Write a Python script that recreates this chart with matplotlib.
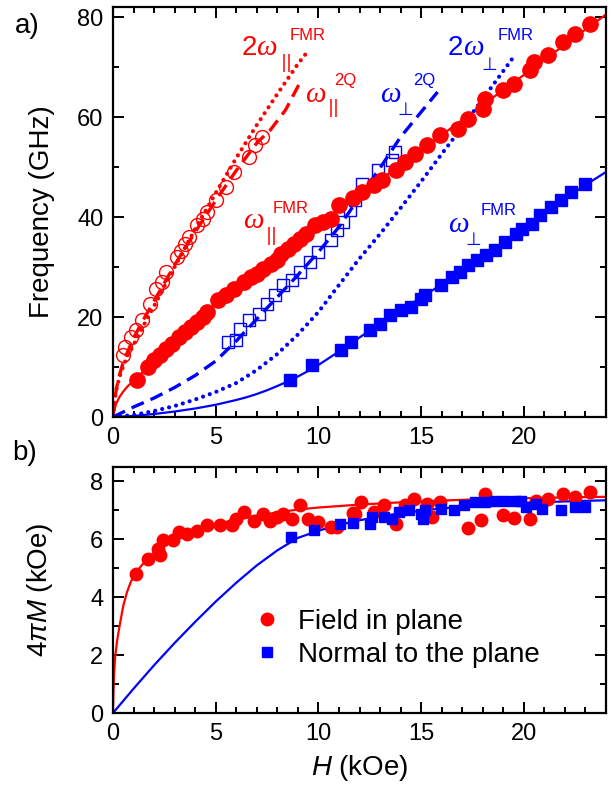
import numpy as np
import matplotlib
matplotlib.use('Agg')
import matplotlib.pyplot as plt
from matplotlib.ticker import MultipleLocator

plt.rcParams['font.family'] = ['Liberation Sans', 'DejaVu Sans']
plt.rcParams['mathtext.fontset'] = 'custom'
plt.rcParams['mathtext.rm'] = 'Liberation Sans'
plt.rcParams['mathtext.it'] = 'Liberation Sans:italic'

RED = '#ff0000'
BLUE = '#0000ff'

# ---------------- panel a: frequency vs field ----------------
# in-plane FMR (filled circles)
par_fmr_h = [1.15, 1.7, 2.0, 2.3, 2.6, 2.86, 3.2, 3.5, 3.8, 4.1, 4.4, 4.6, 5.1, 5.5, 5.9,
             6.4, 6.7, 7.0, 7.3, 7.7, 8.0, 8.2, 8.5, 8.8, 9.1, 9.4, 9.85, 10.2, 10.6, 11.0,
             11.7, 12.1, 12.7, 13.1, 13.8, 14.2, 14.7, 15.3, 15.9, 16.8, 17.3, 18.0, 18.1,
             19.0, 19.5, 20.3, 20.5, 21.2, 21.9, 22.5, 23.2]
par_fmr_f = [7.4, 10.0, 11.5, 12.4, 13.6, 14.7, 16.0, 17.0, 18.0, 19.0, 20.0, 21.0, 23.4, 24.5, 25.7,
             27.0, 28.0, 28.7, 29.6, 30.7, 31.5, 32.7, 33.6, 34.7, 35.6, 36.7, 38.4, 39.0, 39.7, 42.4,
             43.8, 45.0, 46.4, 47.4, 49.4, 51.0, 52.7, 54.4, 56.4, 57.7, 59.7, 61.7, 63.7,
             65.4, 66.7, 69.4, 71.0, 72.4, 75.0, 76.7, 78.7]

# in-plane two-quantum (open circles)
par_2q_h = [0.5, 0.6, 0.9, 1.1, 1.4, 1.8, 2.1, 2.4, 2.6, 3.1, 3.3, 3.5, 3.7, 4.1, 4.4,
            4.6, 5.0, 5.5, 5.9, 6.6, 6.9, 7.25]
par_2q_f = [12.4, 14.0, 16.0, 17.5, 19.4, 22.7, 25.7, 27.0, 29.0, 32.0, 33.3, 34.7, 36.0, 38.4, 39.7,
            41.0, 43.4, 46.0, 49.0, 52.0, 54.4, 56.0]

# perpendicular FMR (filled squares)
perp_fmr_h = [8.63, 9.7, 11.1, 11.6, 12.5, 13.0, 13.5, 14.0, 14.5, 15.0, 15.2, 15.95, 16.5,
              16.9, 17.3, 17.7, 18.15, 18.6, 19.1, 19.6, 19.9, 20.4, 20.8, 21.3, 21.8, 22.3, 23.0]
perp_fmr_f = [7.4, 10.4, 13.5, 15.0, 17.4, 18.7, 20.4, 21.4, 22.0, 23.7, 24.4, 26.4, 28.0,
              29.0, 30.4, 31.4, 32.4, 33.4, 35.0, 36.7, 37.7, 38.7, 40.5, 42.0, 43.4, 45.0, 46.7]

# perpendicular two-quantum (open squares)
perp_2q_h = [5.6, 6.0, 6.2, 6.6, 7.1, 7.5, 7.9, 8.3, 8.7, 9.1, 9.6, 10.0, 10.6, 10.9, 11.2,
             11.56, 11.8, 12.1, 12.9, 13.6, 13.75]
perp_2q_f = [15.0, 15.4, 17.7, 19.4, 20.7, 22.7, 24.4, 26.4, 27.4, 29.0, 31.0, 33.0, 35.4, 37.4, 39.0,
             41.4, 43.4, 46.7, 49.4, 51.4, 53.0]

# fitted curves
par_fit_h = [0, 0.05, 0.15, 0.3, 0.5, 0.75, 1, 1.5, 2, 3, 4, 5, 6, 7, 8, 9, 10, 11, 12, 13, 14,
             15, 16, 17, 18, 19, 20, 21, 22, 23, 24]
par_fit_f = [0, 1.2, 2.6, 3.9, 5.1, 6.3, 7.2, 9.2, 11.1, 15.0, 18.8, 22.4, 25.9, 29.2, 32.3, 35.3,
             38.3, 41.3, 44.3, 47.4, 50.4, 53.4, 56.4, 59.4, 62.4, 65.4, 68.4, 71.4, 74.5, 77.5, 80.5]

par_double_h = [0, 0.05, 0.15, 0.3, 0.5, 0.75, 1, 1.5, 2, 3, 4, 5, 6, 7, 8, 9, 9.4]
par_double_f = [0, 2.4, 5.2, 7.8, 10.2, 12.6, 14.4, 18.4, 22.2, 30.0, 37.6, 44.8, 51.8, 58.4,
                64.6, 70.6, 72.7]

par_2q_fit_h = [0, 0.1, 0.25, 0.5, 1, 1.5, 2, 3, 4, 5, 6, 7, 7.66, 8.4, 9.04]
par_2q_fit_f = [0, 4.0, 7.5, 11.0, 15.8, 19.6, 23.2, 30.4, 37.0, 43.3, 49.3, 54.8, 57.4, 61.4, 66.4]

perp_fit_h = [0, 1, 2, 3, 4, 5, 6, 6.5, 7, 7.5, 8, 8.5, 9, 9.5, 10, 11, 12, 13, 14, 15, 16, 17,
              18, 19, 20, 21, 22, 23, 24]
perp_fit_f = [0, 0.2, 0.6, 1.1, 1.7, 2.45, 3.4, 3.95, 4.6, 5.35, 6.2, 7.1, 8.1, 9.2, 10.4, 13.1,
              15.9, 18.7, 21.3, 23.9, 26.5, 29.1, 31.9, 34.7, 37.7, 40.8, 43.6, 46.4, 49.0]

perp_double_h = [0, 1, 2, 3, 4, 5, 6, 7, 8, 9, 10, 11, 12, 13, 14, 15, 16, 17, 18, 19, 19.5]
perp_double_f = [0, 0.4, 1.2, 2.2, 3.5, 5.0, 6.8, 9.4, 12.6, 16.5, 21.0, 26.4, 31.7, 36.6, 41.8,
                 47.1, 52.6, 58.0, 63.6, 69.2, 72.0]

perp_2q_fit_h = [0, 1, 2, 3, 4, 5, 6, 7, 8, 9, 10, 11, 12, 13, 14, 15, 15.8]
perp_2q_fit_f = [0, 2.0, 3.8, 5.9, 8.3, 11.2, 15.2, 19.6, 24.0, 28.4, 33.0, 38.0, 44.0, 49.8, 56.0,
                 61.0, 65.0]

# ---------------- panel b: magnetisation ----------------
m_par_h = [1.12, 1.7, 2.2, 2.3, 2.45, 2.94, 3.2, 3.6, 4.1, 4.6, 5.2, 5.8, 6.0, 6.36, 6.85, 7.3,
           7.66, 8.0, 8.3, 8.7, 9.1, 9.5, 10.0, 10.6, 10.9, 11.7, 11.8, 12.05, 12.7, 13.2, 13.8,
           14.2, 14.65, 15.3, 15.55, 15.9, 17.3, 17.9, 18.1, 19.0, 19.5, 20.3, 20.6, 21.2, 21.9,
           22.5, 23.2]
m_par = [4.8, 5.33, 5.68, 5.45, 5.97, 5.97, 6.25, 6.2, 6.3, 6.48, 6.48, 6.48, 6.7, 6.94, 6.65, 6.88,
         6.65, 6.77, 6.88, 6.71, 7.2, 6.71, 6.6, 6.42, 6.42, 6.9, 6.89, 7.29, 6.94, 7.17, 6.54,
         7.17, 7.4, 7.23, 6.77, 7.29, 6.4, 6.66, 7.57, 6.83, 6.75, 6.71, 7.34, 7.4, 7.57,
         7.48, 7.63]

m_perp_h = [8.67, 9.77, 11.07, 11.7, 12.5, 12.6, 13.2, 13.6, 13.9, 14.4, 15.0, 15.1, 15.2, 15.95,
            16.6, 17.1, 17.6, 18.1, 18.6, 19.1, 19.6, 19.85, 20.1, 20.6, 20.9, 21.8, 22.5, 23.0]
m_perp = [6.08, 6.31, 6.54, 6.58, 6.54, 6.77, 6.77, 6.71, 6.94, 7.0, 6.88, 6.71, 7.0, 7.06,
          7.0, 7.17, 7.29, 7.29, 7.34, 7.34, 7.34, 7.34, 7.11, 7.23, 7.06, 7.0, 7.11, 7.11]

m_par_fit_h = [0, 0.02, 0.05, 0.1, 0.2, 0.33, 0.5, 0.67, 0.85, 1, 1.3, 1.6, 2, 2.5, 3, 4, 5, 6, 7,
               8, 9, 10, 12, 14, 16, 18, 20, 22, 24]
m_par_fit = [0, 0.7, 1.3, 1.9, 2.5, 3.05, 3.7, 4.15, 4.5, 4.72, 5.02, 5.27, 5.55, 5.8, 6.0, 6.3,
             6.52, 6.68, 6.82, 6.93, 7.03, 7.1, 7.2, 7.28, 7.34, 7.39, 7.42, 7.45, 7.47]

m_perp_fit_h = [0, 1, 2, 3, 4, 5, 6, 7, 8, 9, 10, 11, 12, 13, 14, 15, 16, 18, 20, 22, 24]
m_perp_fit = [0, 0.84, 1.65, 2.42, 3.15, 3.85, 4.5, 5.1, 5.62, 6.05, 6.3, 6.5, 6.66, 6.79, 6.9,
              6.99, 7.07, 7.18, 7.26, 7.31, 7.35]

fig = plt.figure(figsize=(6.13, 7.94), dpi=100)
ax1 = fig.add_axes([113/613, 1-417/794, 493/613, 410/794])
ax2 = fig.add_axes([113/613, 1-713/794, 493/613, 246/794])

dot = (0, (0.01, 1.7))
dash = (0, (4, 2.2))

ax1.plot(par_double_h, par_double_f, color=RED, lw=3, linestyle=dot, dash_capstyle='round')
ax1.plot(par_2q_fit_h, par_2q_fit_f, color=RED, lw=2.4, linestyle=dash)
ax1.plot(par_fit_h, par_fit_f, color=RED, lw=1.6)
ax1.plot(perp_double_h, perp_double_f, color=BLUE, lw=3, linestyle=dot, dash_capstyle='round')
ax1.plot(perp_2q_fit_h, perp_2q_fit_f, color=BLUE, lw=2.4, linestyle=dash)
ax1.plot(perp_fit_h, perp_fit_f, color=BLUE, lw=1.6)

ax1.plot(par_2q_h, par_2q_f, 'o', ms=10, mfc='none', mec=RED, mew=1.0)
ax1.plot(perp_2q_h, perp_2q_f, 's', ms=9, mfc='none', mec=BLUE, mew=1.0)
ax1.plot(par_fmr_h, par_fmr_f, 'o', ms=11, color=RED)
ax1.plot(perp_fmr_h, perp_fmr_f, 's', ms=9, color=BLUE)

ax1.set_xlim(0, 24)
ax1.set_ylim(0, 82)
ax1.xaxis.set_major_locator(MultipleLocator(5))
ax1.xaxis.set_minor_locator(MultipleLocator(1))
ax1.yaxis.set_major_locator(MultipleLocator(20))
ax1.yaxis.set_minor_locator(MultipleLocator(10))
ax1.set_ylabel('Frequency (GHz)', fontsize=20)


def omega_label(ax, x, y, pre, sub, sup, color, sx, sy, px, py):
    # big omega with separate sub/superscripts
    if pre:
        ax.text(x, y, pre, fontsize=20, color=color, ha='left', va='baseline')
        x = x + 0.72
    ax.text(x, y, 'ω', fontsize=21, color=color, ha='left', va='baseline',
            family=['Liberation Serif', 'DejaVu Serif'], style='italic')
    ax.text(sx, sy, sub, fontsize=13, color=color, ha='left', va='bottom',
            family=['DejaVu Sans'])
    ax.text(px, py, sup, fontsize=12, color=color, ha='left', va='baseline')


omega_label(ax1, 6.25, 72.4, '2', '||', 'FMR', RED, 8.15, 69.0, 8.62, 75.4)
omega_label(ax1, 9.35, 63.0, '', '||', '2Q', RED, 10.45, 60.0, 10.75, 66.4)
omega_label(ax1, 6.33, 37.8, '', '||', 'FMR', RED, 7.45, 34.4, 7.78, 40.8)
omega_label(ax1, 16.31, 72.4, '2', '⊥', 'FMR', BLUE, 17.95, 68.6, 18.7, 75.4)
omega_label(ax1, 13.0, 63.0, '', '⊥', '2Q', BLUE, 13.85, 59.6, 14.6, 66.4)
omega_label(ax1, 16.31, 37.0, '', '⊥', 'FMR', BLUE, 17.15, 33.6, 17.9, 40.4)

ax2.plot(m_par_fit_h, m_par_fit, color=RED, lw=1.6)
ax2.plot(m_perp_fit_h, m_perp_fit, color=BLUE, lw=1.6)
ax2.plot(m_par_h, m_par, 'o', ms=9, color=RED, label='Field in plane')
ax2.plot(m_perp_h, m_perp, 's', ms=7.5, color=BLUE, label='Normal to the plane')
ax2.set_xlim(0, 24)
ax2.set_ylim(0, 8.5)
ax2.xaxis.set_major_locator(MultipleLocator(5))
ax2.xaxis.set_minor_locator(MultipleLocator(1))
ax2.yaxis.set_major_locator(MultipleLocator(2))
ax2.yaxis.set_minor_locator(MultipleLocator(1))
ax2.set_xlabel(r'$H$ (kOe)', fontsize=20, labelpad=6)
ax2.set_ylabel(r'$\mathit{4\pi M}$ (kOe)', fontsize=20)
ax2.legend(loc='center left', bbox_to_anchor=(0.285, 0.303), frameon=False, fontsize=20,
           handlelength=1.0, handletextpad=0.6, labelspacing=0.25, borderpad=0,
           borderaxespad=0, numpoints=1)

for ax in (ax1, ax2):
    for s in ax.spines.values():
        s.set_linewidth(1.6)
    ax.tick_params(which='both', direction='in', top=True, right=True, width=1.4,
                   labelsize=17)
    ax.tick_params(which='major', length=8, pad=7)
    ax.tick_params(which='minor', length=4.5)
    ax.yaxis.set_label_coords(-0.118, 0.5)

fig.text(15/613, 1-33/794, 'a)', fontsize=20, va='baseline')
fig.text(12/613, 1-460/794, 'b)', fontsize=20, va='baseline')

fig.savefig('out.png', dpi=100)
